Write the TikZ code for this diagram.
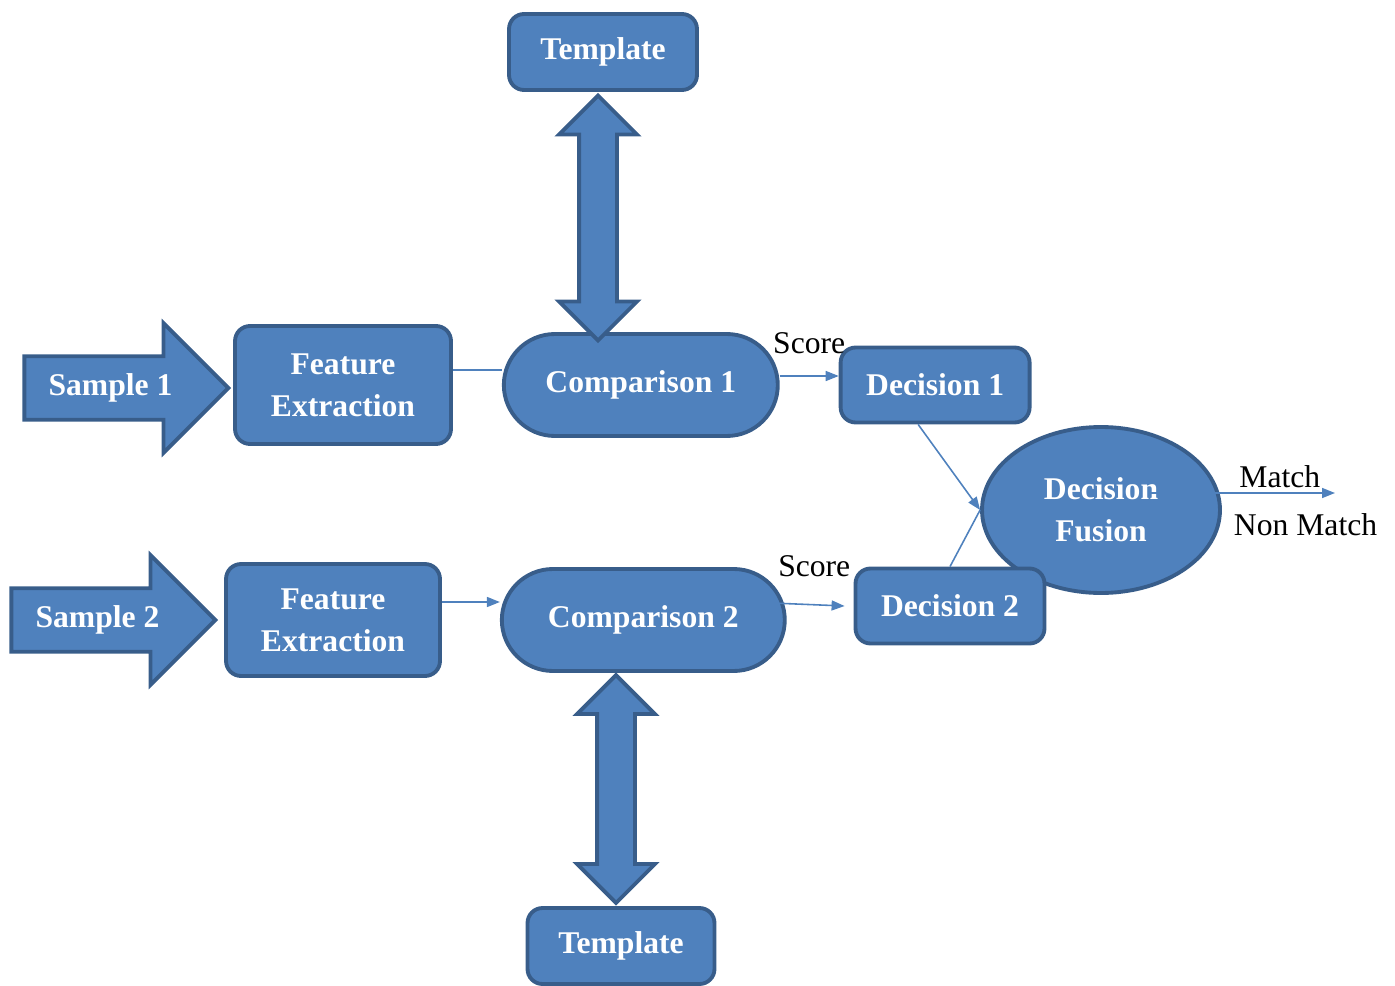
\documentclass[tikz,border=0pt]{standalone}
\usepackage{fontspec}
\setmainfont{Liberation Serif}
\usetikzlibrary{arrows.meta,positioning,shapes.geometric,shapes.arrows}
\definecolor{boxblue}{RGB}{79,129,189}
\definecolor{edgeblue}{RGB}{56,93,138}
\tikzset{
    %Define standard arrow tip
    >={Triangle[length=0.26cm,width=0.2cm]},
    %Define style for boxes
    procnode/.style={
             rectangle, rounded corners=0.3cm,
             fill=boxblue, draw=edgeblue, line width=2.2pt,
             text=white, align=center,
             font=\fontsize{18}{24}\selectfont\bfseries},
    compnode/.style={
             procnode, rounded corners=1.02cm,
             minimum width=5.48cm, minimum height=2.04cm},
    fusionnode/.style={
             procnode, ellipse, sharp corners,
             minimum width=4.76cm, minimum height=3.32cm},
    samplenode/.style={
             procnode, single arrow, sharp corners,
             single arrow head extend=0.66cm, minimum height=4.08cm,
             text height=12pt, text depth=4pt, inner ysep=9pt},
    linknode/.style={
             procnode, double arrow, sharp corners, rotate=90,
             double arrow head extend=0.4cm,
             inner xsep=0pt, inner ysep=0.34cm},
    % Define arrow style
    flowarrow/.style={
            ->, boxblue, line width=0.9pt, text=black,
            font=\fontsize{18}{22}\selectfont},
    flowline/.style={
            boxblue, line width=0.9pt}
}
\begin{document}
\begin{tikzpicture}[x=0.02cm, y=-0.02cm]
 \useasboundingbox (0,0) rectangle (1395,986);
 \node[procnode, minimum width=3.76cm, minimum height=1.52cm] (tmpl1) at (603,52) {Template};
 \node[procnode, minimum width=4.32cm, minimum height=2.36cm] (feat1) at (343,385) {Feature\\Extraction};
 \node[compnode, right=0.98cm of feat1] (comp1) {Comparison 1};
 \node[procnode, minimum width=3.78cm, minimum height=1.5cm, right=1.18cm of comp1] (dec1) {Decision 1};
 \node[fusionnode] (fusion) at (1101,510) {Decision\\Fusion};
 \node[procnode, minimum width=3.78cm, minimum height=1.5cm] (dec2) at (950,606) {Decision 2};
 \node[procnode, minimum width=4.28cm, minimum height=2.24cm] (feat2) at (333,620) {Feature\\Extraction};
 \node[compnode, minimum width=5.66cm, right=1.16cm of feat2] (comp2) {Comparison 2};
 \node[procnode, minimum width=3.74cm, minimum height=1.52cm] (tmpl2) at (621,946) {Template};
 \node[samplenode, anchor=tip] (samp1) at ([xshift=-0.04cm, yshift=-0.06cm]feat1.west) {Sample 1};
 \node[samplenode, anchor=tip] (samp2) at ([xshift=-0.12cm]feat2.west) {Sample 2};
 \node[linknode, minimum height=4.9cm] (link1) at (598,218) {};
 \node[linknode, minimum height=4.56cm] (link2) at (616,789) {};
 \coordinate (out) at (1335,493);
% \node[procnode] (db) {Database};
 \path ([yshift=0.3cm]feat1.east) edge[flowline] ([yshift=0.3cm]feat1.east -| comp1.west)
       ([yshift=0.36cm]feat2.east) edge[flowarrow] ([yshift=0.36cm]feat2.east -| comp2.west)
       ([yshift=0.18cm]comp1.east) edge[flowarrow] node[above=0.32cm] {Score} ([yshift=0.18cm]comp1.east -| dec1.west)
       ([shift={(80,-19)}]comp2.center) edge[flowarrow] node[pos=0.75, above=0.42cm] {Score} ([xshift=-0.18cm]dec2.west)
       ([xshift=-0.34cm]dec1.south) edge[flowarrow] (fusion.west)
       (dec2.north) edge[flowline] (fusion.west)
       ([shift={(50,-17)}]fusion.center) edge[flowarrow] node[pos=0.7, above=-0.02cm] {Match}
                                              node[pos=0.84, below=0.28cm] {Non Match} (out);
\end{tikzpicture}
\end{document}
